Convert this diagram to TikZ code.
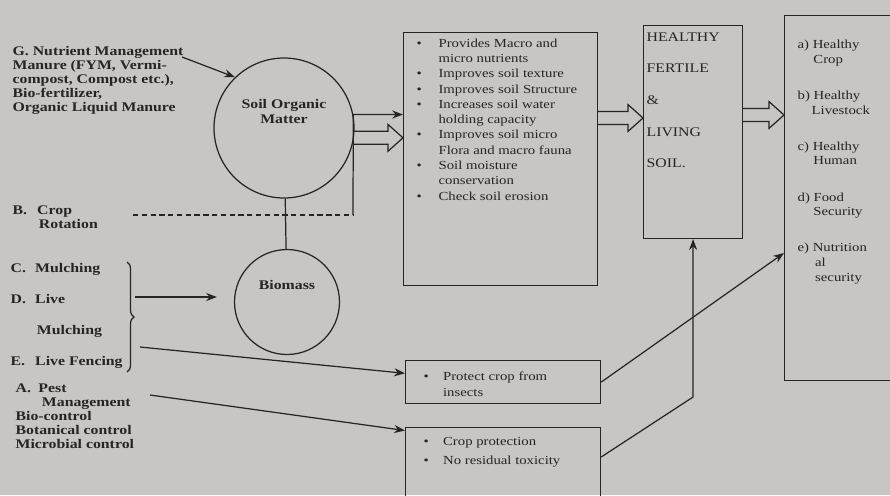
\documentclass[tikz,border=0pt]{standalone}
\usepackage{fontspec}
\setmainfont{Liberation Serif}[FakeStretch=1.2]
\usetikzlibrary{positioning, arrows.meta, calc, decorations.pathreplacing}

\definecolor{paper}{RGB}{201,197,195}
\definecolor{ink}{RGB}{38,36,36}

\newcommand{\bul}[1][12.5pt]{\makebox[#1][l]{\textbullet}}
\newcommand{\nob}[1][12.5pt]{\hspace*{#1}}
\newcommand{\lab}[1]{\makebox[14pt][l]{#1}}
% hollow block arrow from #1 to #2 (same height)
\newcommand{\fatarrow}[2]{%
  \draw let \p1=#1, \p2=#2 in
    (\x1,\y1+3.7pt) -- (\x2-8.5pt,\y1+3.7pt) -- (\x2-8.5pt,\y1+7.6pt) -- (\x2,\y1)
    -- (\x2-8.5pt,\y1-7.6pt) -- (\x2-8.5pt,\y1-3.7pt) -- (\x1,\y1-3.7pt);}

\begin{document}
\begin{tikzpicture}[
    x=0.02cm, y=-0.02cm,
    >=Stealth,
    draw=ink, line width=0.7pt,
    every node/.style={inner sep=0pt, text=ink},
    side/.style={font=\fontsize{7.5}{8}\selectfont\bfseries, align=left, anchor=north west},
    list/.style={font=\fontsize{7}{8.7}\selectfont, align=left, anchor=north west},
    box/.style={draw, anchor=north west},
    pool/.style={draw, circle, label={[yshift=9.5pt, font=\fontsize{7.5}{8.5}\selectfont\bfseries, align=center]center:#1}}
]

\path[use as bounding box, fill=paper] (0,0) rectangle (890,495);
\clip (0,0) rectangle (890,495);

% practices on the left
\node[side] (nutrient) at (12,46) {G.\ Nutrient Management\\ Manure (FYM, Vermi-\\ compost, Compost etc.),\\ Bio-fertilizer,\\ Organic Liquid Manure};
\node[side] (rotation) at (12,205) {\lab{B.}Crop\\ \hspace*{15pt}Rotation};
\node[side, font=\fontsize{7.5}{17.5}\selectfont\bfseries] (mulch) at (10,263) {\lab{C.}Mulching\\ \lab{D.}Live\\ \hspace*{15pt}Mulching\\ \lab{E.}Live Fencing};
\node[side] (pest) at (15,383) {\makebox[13pt][l]{A.}Pest\\ \hspace*{15pt}Management\\ Bio-control\\ Botanical control\\ Microbial control};

% pools
\node[pool={Soil Organic\\ Matter}, minimum size=2.8cm] (som) at (284,128) {};
\node[pool=Biomass, minimum size=2.1cm] (bio) at (287,302) {};

% boxes
\node[box, minimum width=3.88cm, minimum height=5.06cm] (benefit) at (403,32) {};
\node[box, minimum width=1.98cm, minimum height=4.26cm] (soil) at (643,25) {};
\node[box, minimum width=2.6cm, minimum height=7.3cm] (gain) at (784,15) {};
\node[box, minimum width=3.9cm, minimum height=0.86cm] (insect) at (405,360) {};
\node[box, minimum width=3.9cm, minimum height=1.6cm] (protect) at (405,427) {};

\node[list] (benefit-list) at (416,38) {\bul Provides Macro and\\ \nob micro nutrients\\ \bul Improves soil texture\\ \bul Improves soil Structure\\ \bul Increases soil water\\ \nob holding capacity\\ \bul Improves soil micro\\ \nob Flora and macro fauna\\ \bul Soil moisture\\ \nob conservation\\ \bul Check soil erosion};
\node[list, font=\fontsize{7.5}{18}\selectfont] (soil-list) at (646,32) {HEALTHY\\ FERTILE\\ \&\\ LIVING\\ SOIL.};
\node[list, font=\fontsize{7}{8.5}\selectfont] (gain-list) at (797,39) {a) Healthy\\ \hspace*{9pt}Crop\\[12pt] b) Healthy\\ \hspace*{8pt}Livestock\\[12pt] c) Healthy\\ \hspace*{9pt}Human\\[12pt] d) Food\\ \hspace*{9pt}Security\\[12pt] e) Nutrition\\ \hspace*{10pt}al\\ \hspace*{10pt}security};
\node[list, font=\fontsize{7}{9}\selectfont] (insect-list) at (423,371) {\bul[9pt] Protect crop from\\ \nob[9pt] insects};
\node[list, font=\fontsize{7}{10.8}\selectfont] (protect-list) at (423,437) {\bul[9pt] Crop protection\\ \bul[9pt] No residual toxicity};

% connectors
\coordinate (rot) at (133,215);
\coordinate (turn) at (353,215);
\coordinate (mid) at (135,297);
\coordinate (fence) at (140,347);
\coordinate (pestend) at (150,395);
\coordinate (bend) at (soil.south |- 0,397);

\draw[->] ($(nutrient.north east)+(-2,11)$) -- (som.134);
\draw[densely dashed] (rot) -- (turn);
\draw[->] (turn) -- (som.11) -- (som.11 -| benefit.west);
\draw (som) -- (bio);
\fatarrow{(som.-8)}{(som.-8 -| benefit.west)}
\fatarrow{(benefit.east |- 0,118)}{(soil.west |- 0,118)}
\fatarrow{(soil.east |- 0,115)}{(gain.west |- 0,115)}

\draw[decorate, decoration={brace, amplitude=4pt}] (127,262) -- (127,372);
\draw[->, shorten >=0.34cm] (mid) -- (bio.west |- mid);
\draw[->] (fence) -- ([yshift=5pt]insect.west);
\draw[->] (pestend) -- ([yshift=-2pt]protect.north west);
\draw[->] (insect.east) -- ($(gain.north west)+(0,238)$);
\draw[->] ($(protect.north east)+(0,30)$) -- (bend) -- (soil.south);

\end{tikzpicture}
\end{document}
